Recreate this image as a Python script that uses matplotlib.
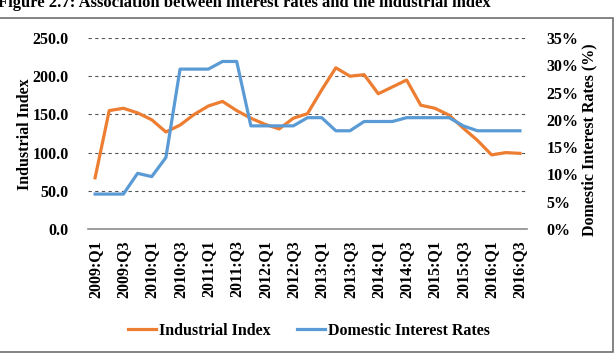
import matplotlib
matplotlib.use("Agg")
import matplotlib.pyplot as plt
import matplotlib.transforms as mtransforms
from matplotlib.patches import Rectangle
from matplotlib.lines import Line2D

quarters = [f"{y}:Q{q}" for y in range(2009, 2017) for q in range(1, 5)][:31]
industrial_index = [67, 155, 158, 152, 143, 127, 136, 150, 161, 167, 155, 145, 137, 131,
                    145, 151, 182, 211, 200, 202, 177, 186, 195, 162, 158, 149, 132, 116,
                    97, 100, 99]
interest_rates = [6.4, 6.4, 6.4, 10.2, 9.6, 13.1, 29.3, 29.3, 29.3, 30.7, 30.7, 18.9, 18.9,
                  18.9, 18.9, 20.4, 20.4, 18.0, 18.0, 19.7, 19.7, 19.7, 20.4, 20.4, 20.4,
                  20.4, 18.9, 18.0, 18.0, 18.0, 18.0]
left_ticks = [0, 50, 100, 150, 200, 250]
right_ticks = [0, 5, 10, 15, 20, 25, 30, 35]

W, H = 615, 353
serif = ["Liberation Serif", "DejaVu Serif"]
plt.rcParams["font.family"] = serif
plt.rcParams["font.weight"] = "bold"
FS = 11.5
ORANGE = "#ED7D31"
BLUE = "#5B9BD5"

fig = plt.figure(figsize=(W / 100, H / 100), dpi=100)
ax = fig.add_axes([88 / W, 1 - 229 / H, (527 - 88) / W, (229 - 38) / H])
ax2 = ax.twinx()

x = list(range(len(quarters)))
ax.plot(x, industrial_index, color=ORANGE, lw=2.3, solid_joinstyle="round", zorder=3)
ax2.plot(x, interest_rates, color=BLUE, lw=2.3, solid_joinstyle="round", zorder=3)

ax.set_xlim(-0.5, len(quarters) - 0.5)
ax.set_ylim(0, 250)
ax2.set_ylim(0, 35)
ax.set_yticks(left_ticks)
ax.set_yticklabels([f"{v:.1f}" for v in left_ticks], fontsize=FS, fontweight="bold")
ax2.set_yticks(right_ticks)
ax2.set_yticklabels([f"{v}%" for v in right_ticks], fontsize=FS, fontweight="bold")

for v in left_ticks[1:]:
    ax.axhline(v, color="#555555", lw=0.8, ls=(0, (3, 3)), zorder=1)

ax.set_xticks(x[::2])
ax.set_xticklabels(quarters[::2], rotation=90, fontsize=FS, fontweight="bold")
offset = mtransforms.ScaledTranslation(4 / 100, 0, fig.dpi_scale_trans)
for lab in ax.get_xticklabels():
    lab.set_transform(lab.get_transform() + offset)

ax.tick_params(axis="both", length=0)
ax.tick_params(axis="y", pad=14)
ax.tick_params(axis="x", pad=8)
ax2.tick_params(axis="y", length=0, pad=14)
for a in (ax, ax2):
    for s in ("top", "left", "right"):
        a.spines[s].set_visible(False)
ax2.spines["bottom"].set_visible(False)
ax.spines["bottom"].set_color("#8c8c8c")
ax.spines["bottom"].set_linewidth(1.2)

fig.text(25 / W, 1 - 134 / H, "Industrial Index", rotation=90, ha="center", va="center",
         fontsize=FS, fontweight="bold")
fig.text(589 / W, 1 - 140 / H, "Domestic Interest Rates (%)", rotation=90, ha="center",
         va="center", fontsize=FS, fontweight="bold")

fig.text(-2 / W, 1 - 7 / H, "Figure 2.7: Association between interest rates and the industrial index",
         ha="left", va="baseline", fontsize=12, fontweight="bold")

handles = [Line2D([], [], color=ORANGE, lw=2.3), Line2D([], [], color=BLUE, lw=2.3)]
fig.legend(handles, ["Industrial Index", "Domestic Interest Rates"], loc="center",
           bbox_to_anchor=(309 / W, 1 - 331 / H), ncol=2, frameon=False,
           prop={"size": FS, "weight": "bold"}, handlelength=1.75, handletextpad=0.15,
           columnspacing=1.7, borderpad=0, borderaxespad=0)

border = Rectangle((-5 / W, 1 - 351.5 / H), (612.5 + 5) / W, (351.5 - 18) / H,
                   transform=fig.transFigure, fill=False, edgecolor="#6e6e6e",
                   lw=1.2, zorder=5)
fig.add_artist(border)

fig.savefig("out.png", dpi=100)
